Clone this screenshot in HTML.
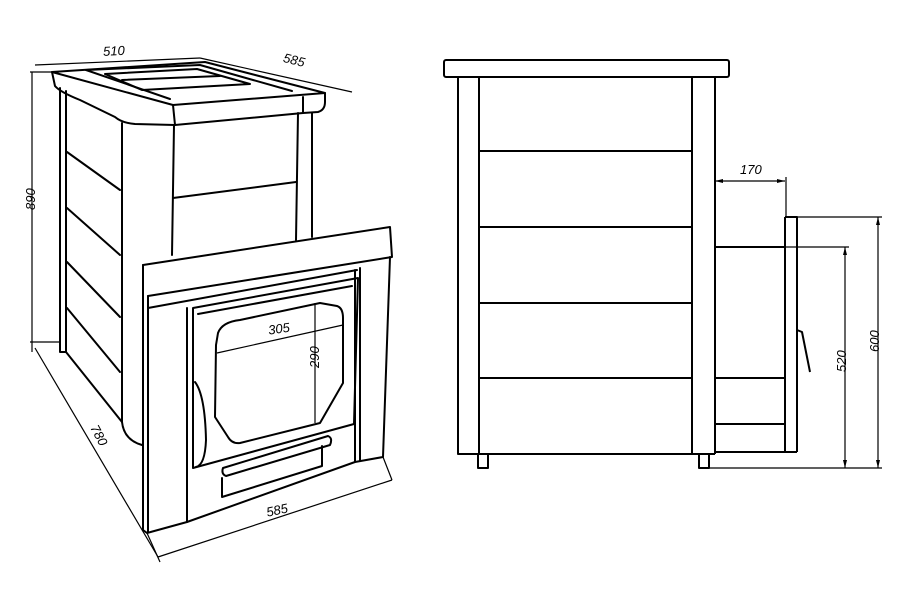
<!DOCTYPE html>
<html><head><meta charset="utf-8"><style>
html,body{margin:0;padding:0;background:#fff;}
svg{display:block}
text{font-family:"Liberation Sans",sans-serif;font-style:italic;font-size:13px;fill:#000}
</style></head><body>
<svg width="900" height="600" viewBox="0 0 900 600" xmlns="http://www.w3.org/2000/svg">
<g fill="none" stroke="#000" stroke-width="2" stroke-linejoin="round" stroke-linecap="round">
<!-- LEFT: isometric stove -->
<!-- top slab -->
<path d="M52,72 L205,62 L325,93 L173,105 Z"/>
<path d="M52,72 L55,86 Q60,92 80,100 L115,117 Q122,123 135,124 L175,125 L303,113 L318,112 Q325,110 325,102 L325,93"/>
<path d="M173,105 L175,125"/>
<path d="M303,97 L303,113"/>
<path d="M86,70 L200,65 L292,91"/>
<path d="M86,70 L170,99"/>
<path d="M105,74 L197,69 L250,84 L142,90 Z"/>
<path d="M122,80 L220,76"/>
<!-- body left -->
<path d="M60,88 L60,352 L66,352"/>
<path d="M66,91 L66,352 L122,422"/>
<path d="M122,123 L122,422 Q124,440 142,445"/>
<path d="M67,152 L120,190"/>
<path d="M67,208 L120,255"/>
<path d="M67,262 L120,317"/>
<path d="M67,308 L120,372"/>
<!-- right upper face -->
<path d="M174,125 L172,255"/>
<path d="M298,113 L296,240"/>
<path d="M312,113 L312,237"/>
<path d="M173,198 L296,182"/>
<!-- front panel -->
<path d="M143,265 L390,227 L392,257 L148,296"/>
<path d="M143,265 L143,530 L147,533 L187,522 L355,462 L383,457 L390,257"/>
<path d="M148,296 L148,532"/>
<path d="M148,308 L357,270"/>
<path d="M187,308 L187,522"/>
<path d="M355,270 L355,462"/>
<path d="M360,268 L360,461"/>
<!-- door -->
<path d="M193,308 L358,278 L354,424 L193,468 Z"/>
<path d="M198,314 L352,286"/>
<path d="M218,333 Q222,322 240,320 L320,303 L337,306 Q343,308 343,318 L343,383 L320,423 L240,443 Q232,444 228,437 L215,417 L216,345 Z"/>
<path d="M195,382 Q205,395 206,440 Q205,465 196,467"/>
<!-- ash drawer -->
<path d="M223,468 L328,436 Q333,438 330,445 L226,476 Q221,474 223,468 Z"/>
<path d="M222,478 L222,497 L322,466 L322,446"/>
</g>
<!-- dimension lines left -->
<g fill="none" stroke="#000" stroke-width="1.2">
<path d="M35,65 L200,58"/>
<path d="M200,58 L352,92"/>
<path d="M32,72 L32,352"/>
<path d="M30,72 L55,72 M30,342 L60,342"/>
<path d="M35,348 L158,557"/>
<path d="M158,557 L392,480"/>
<path d="M383,457 L392,480 M147,533 L160,562"/>
<path d="M217,353 L343,325"/>
<path d="M315,303 L315,423"/>
</g>
<text x="103" y="55" transform="rotate(-3 120 50)">510</text>
<text x="283" y="66" transform="rotate(14 300 62)">585</text>
<text x="23" y="222" transform="rotate(-90 23 210)">890</text>
<text x="88" y="441" transform="rotate(62 100 436)">780</text>
<text x="266" y="514" transform="rotate(-12 280 509)">585</text>
<text x="268" y="333" transform="rotate(-8 280 328)">305</text>
<text x="300" y="375" transform="rotate(-90 306 362)">290</text>

<!-- RIGHT: side view -->
<g fill="none" stroke="#000" stroke-width="2" stroke-linejoin="round">
<rect x="444" y="60" width="285" height="17" rx="2"/>
<path d="M458,77 L458,454 L715,454"/>
<path d="M479,77 L479,454"/>
<path d="M692,77 L692,454"/>
<path d="M715,77 L715,454"/>
<path d="M479,151 L692,151 M479,227 L692,227 M479,303 L692,303 M479,378 L692,378"/>
<path d="M478,454 L478,468 L488,468 L488,454"/>
<path d="M699,454 L699,468 L709,468 L709,454"/>
<path d="M715,247 L785,247 M715,378 L785,378 M715,424 L785,424 M715,452 L797,452"/>
<path d="M785,217 L785,452"/>
<path d="M785,217 L797,217 L797,452"/>
<path d="M797,330 L802,332 L810,372"/>
</g>
<g fill="none" stroke="#000" stroke-width="1.2">
<path d="M715,181 L785,181"/>
<path d="M786,177 L786,217"/>
<path d="M797,217 L882,217"/>
<path d="M878,217 L878,468"/>
<path d="M709,468 L882,468"/>
<path d="M785,247 L849,247"/>
<path d="M845,247 L845,468"/>
</g>
<g fill="#000">
<path d="M715,181 l8,-2 v4 z M785,181 l-8,-2 v4 z"/>
<path d="M878,217 l-2,8 h4 z M878,468 l-2,-8 h4 z"/>
<path d="M845,247 l-2,8 h4 z M845,468 l-2,-8 h4 z"/>
</g>
<text x="740" y="174">170</text>
<text x="824" y="370" transform="rotate(-90 836 360)">520</text>
<text x="857" y="350" transform="rotate(-90 869 340)">600</text>
</svg>
</body></html>
